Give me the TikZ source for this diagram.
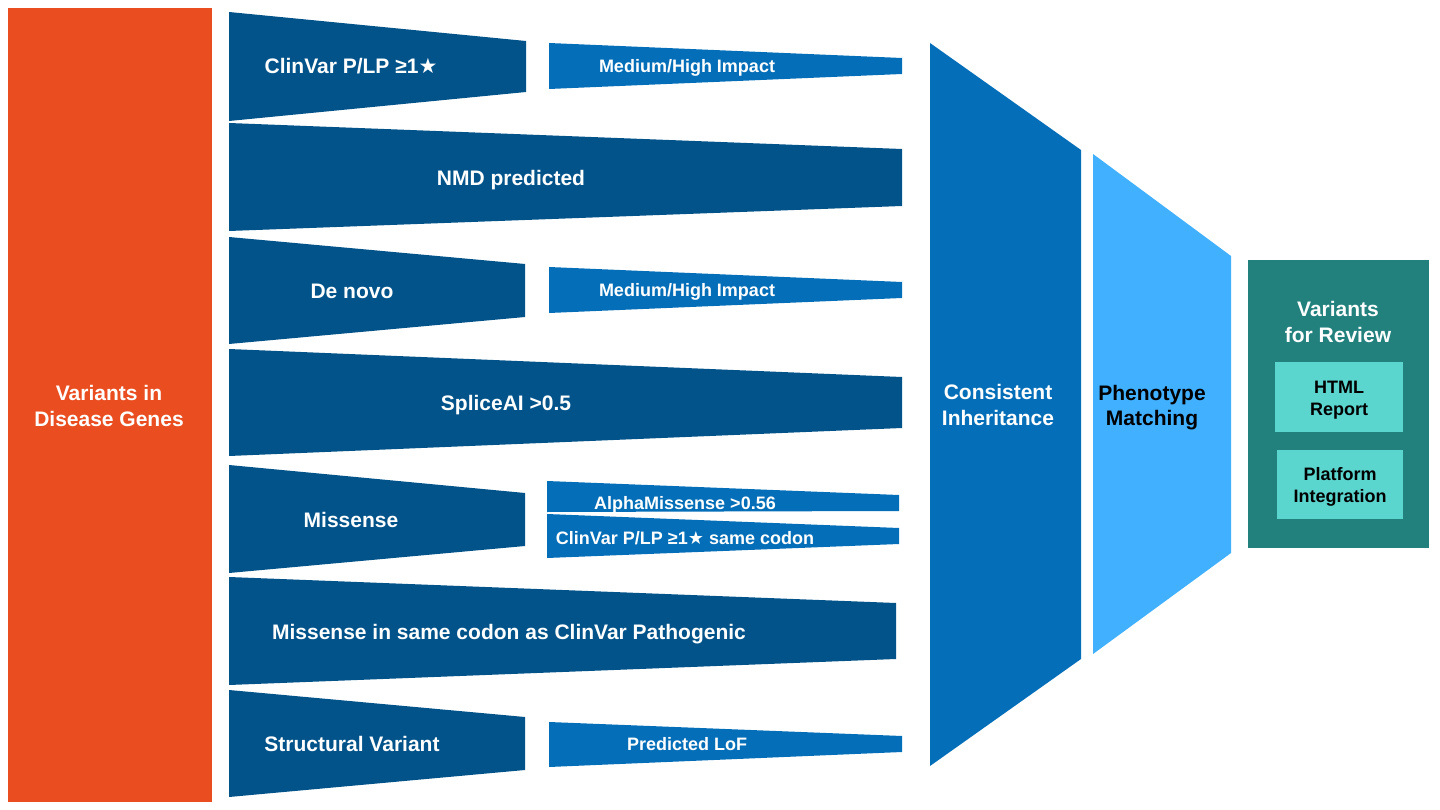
\documentclass[tikz,border=0pt]{standalone}
\usepackage{fontspec}
\setmainfont{Liberation Sans}
\newfontfamily\symf{DejaVu Sans}
\definecolor{orangebar}{HTML}{EA4E20}
\definecolor{darkblue}{HTML}{02538A}
\definecolor{midblue}{HTML}{046EB8}
\definecolor{lightblue}{HTML}{40B0FF}
\definecolor{teal}{HTML}{22817D}
\definecolor{lightteal}{HTML}{5BD6CF}
\newcommand{\starsym}{{\symf ★}}
\begin{document}
\begin{tikzpicture}[x=1pt,y=-1pt,
  big/.style={text=white, font=\bfseries\fontsize{21}{25.5}\selectfont, align=center, inner sep=0pt},
  small/.style={text=white, font=\bfseries\fontsize{18}{22}\selectfont, align=center, inner sep=0pt},
  bigone/.style={big, text height=15pt, text depth=0pt},
  smallone/.style={small, text height=13pt, text depth=0pt},
  darktext/.style={text=black}]
\useasboundingbox (0,0) rectangle (1440,810);
% left bar
\fill[orangebar] (8,8) rectangle (212,802);
% left trapezoids
\fill[darkblue] (229,12) -- (526,41) -- (526,92) -- (229,121) -- cycle;
\fill[darkblue] (229,123) -- (902,149) -- (902,206) -- (229,231) -- cycle;
\fill[darkblue] (229,237) -- (525,264) -- (525,317) -- (229,344) -- cycle;
\fill[darkblue] (229,349) -- (902,377) -- (902,428) -- (229,456) -- cycle;
\fill[darkblue] (229,465) -- (525,493) -- (525,546) -- (229,573) -- cycle;
\fill[darkblue] (229,577) -- (896,603) -- (896,659) -- (229,685) -- cycle;
\fill[darkblue] (229,690) -- (525,717) -- (525,770) -- (229,797) -- cycle;
% small bars
\fill[midblue] (549,43) -- (902,58) -- (902,74) -- (549,89) -- cycle;
\fill[midblue] (549,267) -- (902,282) -- (902,298) -- (549,313) -- cycle;
\fill[midblue] (547,481) -- (899,495) -- (899,511) -- (547,512) -- cycle;
\fill[midblue] (547,514) -- (899,528) -- (899,544) -- (547,558) -- cycle;
\fill[midblue] (549,722) -- (902,736) -- (902,752) -- (549,767) -- cycle;
% funnels
\fill[midblue] (930,43) -- (1081,150) -- (1081,659) -- (930,766) -- cycle;
\fill[lightblue] (1093,154) -- (1231,256) -- (1231,553) -- (1093,654) -- cycle;
% output box
\fill[teal] (1248,260) rectangle (1429,548);
\fill[lightteal] (1275,362) rectangle (1403,432);
\fill[lightteal] (1277,450) rectangle (1403,519);
% labels
\node[big] (vdg) at (109,406) {Variants in\\Disease Genes};
\node[bigone] (clinvar) at (351,66) {ClinVar P/LP ≥1\starsym};
\node[bigone] (nmd) at (511,178) {NMD predicted};
\node[bigone] (denovo) at (352,291) {De novo};
\node[bigone] (splice) at (506,403) {SpliceAI >0.5};
\node[bigone] (missense) at (351,520) {Missense};
\node[bigone] (codon) at (509,632) {Missense in same codon as ClinVar Pathogenic};
\node[bigone] (sv) at (352,744) {Structural Variant};
\node[smallone] (imp1) at (687,66) {Medium/High Impact};
\node[smallone] (imp2) at (687,290) {Medium/High Impact};
\node[smallone] (alpha) at (685,503) {AlphaMissense >0.56};
\node[smallone] (cvcodon) at (685,538) {ClinVar P/LP ≥1\starsym{} same codon};
\node[smallone] (lof) at (687,744) {Predicted LoF};
\node[big] (inherit) at (998,405) {Consistent\\Inheritance};
\node[big, darktext] (pheno) at (1152,407.5) {Phenotype\\Matching};
\node[big] (review) at (1338,322) {Variants\\for Review};
\node[small, darktext] (html) at (1339,400) {HTML\\Report};
\node[small, darktext] (platform) at (1340,487) {Platform\\Integration};
\end{tikzpicture}
\end{document}
